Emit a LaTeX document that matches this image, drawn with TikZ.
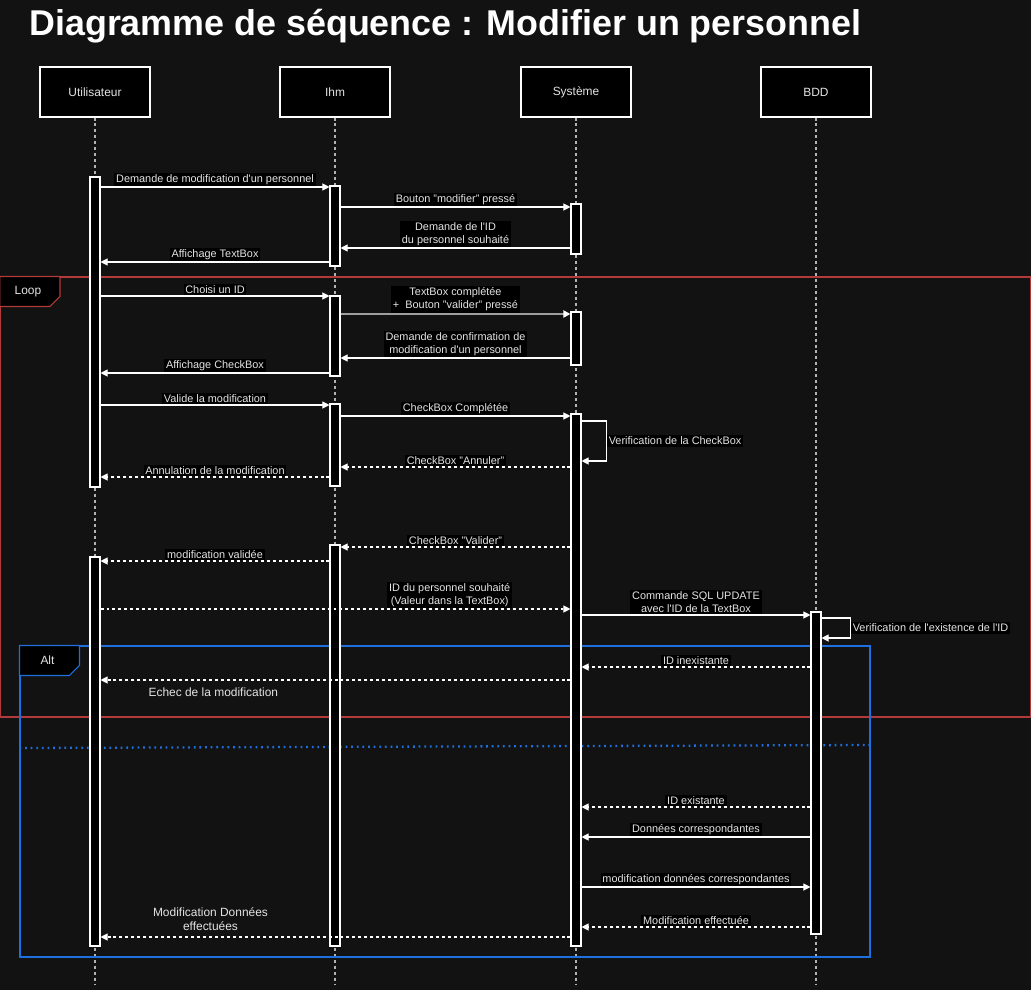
\documentclass[tikz,border=0pt]{standalone}
\usepackage{fontspec}
\setmainfont{Liberation Sans}
\usetikzlibrary{arrows.meta,fit,positioning}
\definecolor{bg}{RGB}{18,18,18}
\definecolor{lbltext}{RGB}{228,228,228}
\definecolor{loopred}{RGB}{178,58,58}
\definecolor{altblue}{RGB}{30,112,222}
\newcommand{\ap}{\textquotesingle}
\tikzset{
  head/.style={draw=white, fill=black, text=lbltext, line width=0.6pt,
    minimum width=2.2cm, minimum height=1cm, font=\fontsize{6.8}{8}\selectfont},
  life/.style={draw=white!70!black, line width=0.6pt, dash pattern=on 1.7pt off 1.7pt},
  act/.style={draw=white, fill=black, inner sep=0pt, line width=0.6pt},
  msg/.style={draw=white, line width=0.6pt, -{Triangle[length=4pt,width=4pt,color=white]}},
  reply/.style={msg, dash pattern=on 1.7pt off 1.7pt},
  lbl/.style={fill=black, text=lbltext, inner sep=1pt, align=center,
    font=\fontsize{6.2}{7.4}\selectfont},
  txt/.style={text=lbltext, align=center, font=\fontsize{6.8}{7.8}\selectfont},
  frame/.style={line width=0.6pt, inner sep=0pt},
  tag/.style={fill=black, line width=0.6pt}
}
\begin{document}
\begin{tikzpicture}[x=0.02cm, y=-0.02cm]
  \fill[bg] (0,0) rectangle (1031,990);
  \useasboundingbox (0,0) rectangle (1031,990);
  \node[anchor=base west, inner sep=0pt, text=white,
    font=\fontsize{20.4}{24}\selectfont\bfseries] (title) at (29,36)
    {Diagramme de séquence : Modifier un personnel};
  \node[head] (user) at (95,92) {Utilisateur};
  \node[head] (ihm)  at (335,92) {Ihm};
  \node[head] (sys)  at (576,92) {Système};
  \node[head] (bdd)  at (816,92) {BDD};
  \foreach \p in {user,ihm,sys,bdd}
    \draw[life] (\p) -- (\p |- 0,985);
  \node[frame, draw=loopred, fit={(0.5,277) (1030.5,717)}] (loop) {};
  \draw[tag, draw=loopred] (loop.north west) -- ++(60,0) -- ++(0,20) -- ++(-10,10) -- ++(-50,0) -- cycle;
  \path (loop.north west) ++(28,15) node[txt] (looptag) {Loop};
  \node[frame, draw=altblue, fit={(20,646) (870,957)}] (alt) {};
  \draw[tag, draw=altblue] (alt.north west) -- ++(60,0) -- ++(0,20) -- ++(-10,10) -- ++(-50,0) -- cycle;
  \path (alt.north west) ++(28,15) node[txt] (alttag) {Alt};
  \draw[altblue, line width=1.3pt, dash pattern=on 1pt off 2.2pt] (alt.west |- 0,748) -- (alt.east |- 0,745);
  \node[act, fit={(90,177) (100,487)}] (uA1) {};
  \node[act, fit={(90,557) (100,946)}] (uA2) {};
  \node[act, fit={(330,186) (340,266)}] (iA1) {};
  \node[act, fit={(330,296) (340,376)}] (iA2) {};
  \node[act, fit={(330,404) (340,486)}] (iA3) {};
  \node[act, fit={(330,545) (340,946)}] (iA4) {};
  \node[act, fit={(571,204) (581,254)}] (sA1) {};
  \node[act, fit={(571,312) (581,365)}] (sA2) {};
  \node[act, fit={(571,414) (581,946)}] (sA3) {};
  \node[act, fit={(811,612) (821,934)}] (bA1) {};
  \draw[msg] (uA1.east |- 0,187) -- node[lbl, above] (m1) {Demande de modification d\ap un personnel} (iA1.west |- 0,187);
  \draw[msg] (iA1.east |- 0,207) -- node[lbl, above] (m2) {Bouton "modifier" pressé} (sA1.west |- 0,207);
  \draw[msg] (sA1.west |- 0,248) -- node[lbl, above] (m3) {Demande de l\ap ID\\du personnel souhaité} (iA1.east |- 0,248);
  \draw[msg] (iA1.west |- 0,262) -- node[lbl, above] (m4) {Affichage TextBox} (uA1.east |- 0,262);
  \draw[msg] (uA1.east |- 0,296) -- node[lbl, above] (m5) {Choisi un ID} (iA2.west |- 0,296);
  \draw[msg, draw=gray!75, line width=1.2pt] (iA2.east |- 0,314) -- node[lbl, above] (m6) {TextBox complétée\\+\ \ Bouton "valider" pressé} (sA2.west |- 0,314);
  \draw[msg] (sA2.west |- 0,358) -- node[lbl, above] (m7) {Demande de confirmation de\\modification d\ap un personnel} (iA2.east |- 0,358);
  \draw[msg] (iA2.west |- 0,373) -- node[lbl, above] (m8) {Affichage CheckBox} (uA1.east |- 0,373);
  \draw[msg] (uA1.east |- 0,405) -- node[lbl, above] (m9) {Valide la modification} (iA3.west |- 0,405);
  \draw[msg] (iA3.east |- 0,416) -- node[lbl, above] (m10) {CheckBox Complétée} (sA3.west |- 0,416);
  \draw[msg] (sA3.east |- 0,421) -- ++(25,0) |- node[lbl, right, pos=0.25] (m11) {Verification de la CheckBox} (sA3.east |- 0,461);
  \draw[reply] (sA3.west |- 0,467) -- node[lbl, above] (m12) {CheckBox "Annuler"} (iA3.east |- 0,467);
  \draw[reply] (iA3.west |- 0,477) -- node[lbl, above] (m13) {Annulation de la modification} (uA1.east |- 0,477);
  \draw[reply] (sA3.west |- 0,547) -- node[lbl, above] (m14) {CheckBox "Valider"} (iA4.east |- 0,547);
  \draw[reply] (iA4.west |- 0,561) -- node[lbl, above] (m15) {modification validée} (uA2.east |- 0,561);
  \draw[reply] (uA2.east |- 0,609) -- node[lbl, above, pos=0.743] (m16) {ID du personnel souhaité\\(Valeur dans la TextBox)} (sA3.west |- 0,609);
  \draw[msg] (sA3.east |- 0,615) -- node[lbl, above] (m17) {Commande SQL UPDATE\\avec l\ap ID de la TextBox\ } (bA1.west |- 0,615);
  \draw[msg] (bA1.east |- 0,618) -- ++(29,0) |- node[lbl, right, pos=0.25] (m18) {Verification de l\ap existence de l\ap ID} (bA1.east |- 0,638);
  \draw[reply] (bA1.west |- 0,667) -- node[lbl, above] (m19) {ID inexistante} (sA3.east |- 0,667);
  \draw[reply] (sA3.west |- 0,680) -- node[txt, below=1pt, pos=0.76] (m20) {Echec de la modification} (uA2.east |- 0,680);
  \draw[reply] (bA1.west |- 0,807) -- node[lbl, above] (m21) {ID existante} (sA3.east |- 0,807);
  \draw[msg] (bA1.west |- 0,837) -- node[lbl, above] (m22) {Données correspondantes} (sA3.east |- 0,837);
  \draw[msg] (sA3.east |- 0,887) -- node[lbl, above] (m23) {modification données correspondantes} (bA1.west |- 0,887);
  \draw[reply] (bA1.west |- 0,927) -- node[lbl, above] (m24) {Modification effectuée} (sA3.east |- 0,927);
  \draw[reply] (sA3.west |- 0,937) -- node[txt, above, pos=0.766] (m25) {Modification Données\\effectuées} (uA2.east |- 0,937);
\end{tikzpicture}
\end{document}
